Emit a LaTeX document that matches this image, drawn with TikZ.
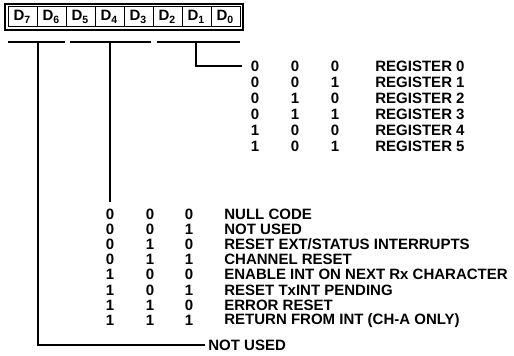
\documentclass[tikz,border=0pt]{standalone}
\usepackage{fontspec}
\setmainfont{Liberation Sans}
\usetikzlibrary{positioning}
\tikzset{x=0.5pt, y=-0.5pt}
\tikzset{cell/.style={draw, line width=0.5pt, minimum width=14.5pt, minimum height=10pt, inner sep=0pt, outer sep=0pt, font=\fontsize{7.5}{9}\selectfont\bfseries}}
\tikzset{bit/.style={inner sep=0pt, font=\fontsize{7.5}{9}\selectfont\bfseries}}
\tikzset{txt/.style={bit, anchor=west}}
\tikzset{bus/.style={line width=0.9pt}}

\begin{document}
\begin{tikzpicture}
        \useasboundingbox (0,0) rectangle (514,356);
        % register bits
        \node[cell] (d7) at (22.5,17) {D\textsubscript{7}};
        \node[cell, right=0pt of d7] (d6) {D\textsubscript{6}};
        \node[cell, right=0pt of d6] (d5) {D\textsubscript{5}};
        \node[cell, right=0pt of d5] (d4) {D\textsubscript{4}};
        \node[cell, right=0pt of d4] (d3) {D\textsubscript{3}};
        \node[cell, right=0pt of d3] (d2) {D\textsubscript{2}};
        \node[cell, right=0pt of d2] (d1) {D\textsubscript{1}};
        \node[cell, right=0pt of d1] (d0) {D\textsubscript{0}};
        \draw[line width=1pt] ([shift={(-3,-3)}]d7.north west) rectangle ([shift={(3,3)}]d0.south east);
        % field brackets
        \coordinate (b1) at (38,42);
        \coordinate (b2) at (110,42);
        \coordinate (b3) at (196,42);
        \draw[bus] (8,42) -- (65,42);
        \draw[bus] (70,42) -- (151,42);
        \draw[bus] (157,42) -- (240,42);
        % register pointer
        \foreach \a/\b/\c/\t [count=\i from 0] in {0/0/0/{REGISTER 0}, 0/0/1/{REGISTER 1}, 0/1/0/{REGISTER 2},
                0/1/1/{REGISTER 3}, 1/0/0/{REGISTER 4}, 1/0/1/{REGISTER 5}} {
            \node[bit] (ra\i) at (255,66+16*\i) {\a};
            \node[bit] (rb\i) at (295,66+16*\i) {\b};
            \node[bit] (rc\i) at (335,66+16*\i) {\c};
            \node[txt] (rt\i) at (375,66+16*\i) {\t};
        }
        % commands
        \foreach \a/\b/\c/\t [count=\i from 0] in {0/0/0/{NULL CODE}, 0/0/1/{NOT USED},
                0/1/0/{RESET EXT/STATUS INTERRUPTS}, 0/1/1/{CHANNEL RESET},
                1/0/0/{ENABLE INT ON NEXT Rx CHARACTER}, 1/0/1/{RESET TxINT PENDING},
                1/1/0/{ERROR RESET}, 1/1/1/{RETURN FROM INT (CH-A ONLY)}} {
            \node[bit] (ca\i) at (110,214+15.2*\i) {\a};
            \node[bit] (cb\i) at (150,214+15.2*\i) {\b};
            \node[bit] (cc\i) at (189,214+15.2*\i) {\c};
            \node[txt] (ct\i) at (224,214+15.2*\i) {\t};
        }
        \node[txt] (nu) at (208,345) {NOT USED};
        \draw[bus, shorten >=4pt] (b3) |- (ra0.west);
        \draw[bus, shorten >=3pt] (b2) -- (ca0.north);
        \draw[bus, shorten >=1.5pt] (b1) |- (nu.west);
\end{tikzpicture}
\end{document}
